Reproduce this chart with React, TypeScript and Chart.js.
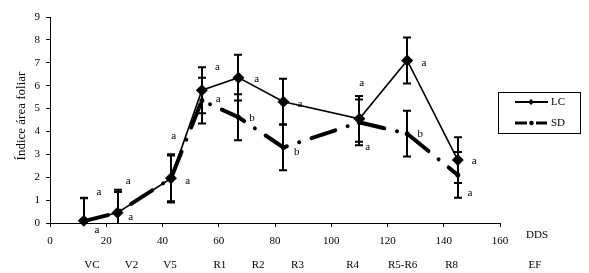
import React, { useEffect, useRef } from 'react';
import { Chart, registerables } from 'chart.js';

Chart.register(...registerables);

// ---- data ----
const dds = [12, 24, 43, 54, 67, 83, 110, 127, 145];
const lcValues = [0.1, 0.45, 1.95, 5.8, 6.35, 5.3, 4.55, 7.1, 2.75];
const sdValues = [0.08, 0.45, 1.95, 5.35, 4.62, 3.3, 4.4, 3.9, 2.1];
const lcErrors = [1.0, 1.0, 1.05, 1.0, 1.0, 1.0, 1.0, 1.0, 1.0];
const sdErrors = [1.0, 0.9, 1.0, 1.0, 1.0, 1.0, 1.0, 1.0, 1.0];

const stageNames = ['VC', 'V2', 'V5', 'R1', 'R2', 'R3', 'R4', 'R5-R6', 'R8', 'EF'];
const stageDds = [14.9, 29, 42.7, 60.4, 74, 88, 107.6, 125.4, 142.8, 172.4];

const letterTexts = ['a', 'a', 'a', 'a', 'a', 'a', 'a', 'a', 'a', 'a', 'a', 'a', 'a', 'b', 'b', 'a', 'b', 'a'];
const letterX = [17.4, 27.8, 44, 59.5, 73.5, 88.9, 110.8, 133, 150.8, 16.7, 28.7, 49, 59.8, 71.8, 87.7, 113, 131.6, 149.3];
const letterY = [1.35, 1.85, 3.8, 6.8, 6.29, 5.2, 6.1, 7.0, 2.7, -0.3, 0.26, 1.85, 5.43, 4.6, 3.1, 3.33, 3.9, 1.3];

const seriesNames = ['LC', 'SD'];
const xAxisTitle = 'DDS';
const yAxisTitle = 'Índice área foliar';

const FONT = '"Liberation Serif", "Times New Roman", serif';

const overlayPlugin = {
  id: 'overlay',
  beforeDatasetsDraw(chart: any) {
    const { ctx, chartArea, scales } = chart;
    const x = scales.x;
    const y = scales.y;
    ctx.save();
    ctx.beginPath();
    ctx.rect(chartArea.left, chartArea.top, chartArea.right - chartArea.left, chartArea.bottom - chartArea.top);
    ctx.clip();
    ctx.strokeStyle = '#000';
    ctx.lineWidth = 2;
    ctx.lineCap = 'butt';
    const draw = (vals: number[], errs: number[]) => {
      vals.forEach((v, i) => {
        const px = Math.round(x.getPixelForValue(dds[i]));
        const yHi = y.getPixelForValue(v + errs[i]);
        const yLo = y.getPixelForValue(v - errs[i]);
        ctx.beginPath();
        ctx.moveTo(px, yHi);
        ctx.lineTo(px, yLo);
        ctx.moveTo(px - 4, yHi);
        ctx.lineTo(px + 4, yHi);
        ctx.moveTo(px - 4, yLo);
        ctx.lineTo(px + 4, yLo);
        ctx.stroke();
      });
    };
    draw(lcValues, lcErrors);
    draw(sdValues, sdErrors);
    ctx.restore();
  },
  afterDraw(chart: any) {
    const { ctx, scales } = chart;
    const x = scales.x;
    const y = scales.y;
    ctx.save();
    ctx.fillStyle = '#000';
    ctx.strokeStyle = '#000';
    // significance letters
    ctx.font = '11px ' + FONT;
    ctx.textAlign = 'center';
    ctx.textBaseline = 'middle';
    letterTexts.forEach((t, i) => {
      ctx.fillText(t, x.getPixelForValue(letterX[i]), y.getPixelForValue(letterY[i]));
    });
    // stage labels
    stageNames.forEach((t, i) => {
      ctx.fillText(t, x.getPixelForValue(stageDds[i]), 265);
    });
    // x-axis title
    ctx.fillText(xAxisTitle, 537, 235);
    // y-axis title
    ctx.save();
    ctx.translate(22, 116);
    ctx.rotate(-Math.PI / 2);
    ctx.font = '13px ' + FONT;
    ctx.fillText(yAxisTitle, 0, 0);
    ctx.restore();
    // legend
    ctx.lineWidth = 1;
    ctx.strokeRect(498.5, 92.5, 82, 41);
    ctx.font = '11px ' + FONT;
    ctx.textAlign = 'left';
    // LC
    ctx.lineWidth = 2;
    ctx.beginPath();
    ctx.moveTo(515, 102);
    ctx.lineTo(548, 102);
    ctx.stroke();
    ctx.beginPath();
    ctx.moveTo(531, 99);
    ctx.lineTo(534, 102);
    ctx.lineTo(531, 105);
    ctx.lineTo(528, 102);
    ctx.closePath();
    ctx.fill();
    ctx.fillText(seriesNames[0], 551, 102.5);
    // SD
    ctx.lineWidth = 3;
    ctx.beginPath();
    ctx.moveTo(515, 123);
    ctx.lineTo(527, 123);
    ctx.moveTo(536, 123);
    ctx.lineTo(547, 123);
    ctx.stroke();
    ctx.beginPath();
    ctx.arc(531.5, 123, 2.3, 0, Math.PI * 2);
    ctx.fill();
    ctx.fillText(seriesNames[1], 551, 123.5);
    ctx.restore();
  },
};

export default function App() {
  const ref = useRef<HTMLCanvasElement | null>(null);
  useEffect(() => {
    if (!ref.current) return;
    const chart = new Chart(ref.current, {
      type: 'line',
      data: {
        datasets: [
          {
            label: seriesNames[0],
            data: dds.map((d, i) => ({ x: d, y: lcValues[i] })),
            borderColor: '#000',
            backgroundColor: '#000',
            borderWidth: 1.6,
            pointStyle: 'rectRot',
            pointRadius: 6,
            pointBackgroundColor: '#000',
            pointBorderColor: '#000',
            pointBorderWidth: 0,
            tension: 0,
            clip: false as any,
          },
          {
            label: seriesNames[1],
            data: dds.map((d, i) => ({ x: d, y: sdValues[i] })),
            borderColor: '#000',
            backgroundColor: '#000',
            borderWidth: 4,
            borderDash: [25, 13, 0.01, 13],
            borderCapStyle: 'round',
            pointStyle: 'circle',
            pointRadius: 2.5,
            pointBackgroundColor: '#000',
            pointBorderWidth: 0,
            tension: 0,
            clip: false as any,
          },
        ],
      },
      options: {
        animation: false,
        responsive: false,
        layout: { padding: { top: 17, right: 89, left: 0, bottom: 0 } },
        plugins: { legend: { display: false }, tooltip: { enabled: false } },
        scales: {
          x: {
            type: 'linear',
            min: 0,
            max: 160,
            ticks: { stepSize: 20, color: '#000', font: { family: FONT, size: 11 }, padding: 8, maxRotation: 0 },
            grid: { drawOnChartArea: false, drawTicks: true, tickLength: 4, color: '#000' },
            border: { display: true, color: '#000', width: 1 },
            afterFit: (s: any) => { s.height = 50; },
          },
          y: {
            type: 'linear',
            min: 0,
            max: 9,
            ticks: { stepSize: 1, color: '#000', font: { family: FONT, size: 11 }, padding: 6 },
            grid: { drawOnChartArea: false, drawTicks: true, tickLength: 4, color: '#000' },
            border: { display: true, color: '#000', width: 1 },
            afterFit: (s: any) => { s.width = 50; },
          },
        },
      },
      plugins: [overlayPlugin],
    });
    return () => chart.destroy();
  }, []);
  return (
    <div style={{ position: 'absolute', left: 0, top: 0, width: 589, height: 273, background: '#fff' }}>
      <canvas ref={ref} width={589} height={273} />
    </div>
  );
}
